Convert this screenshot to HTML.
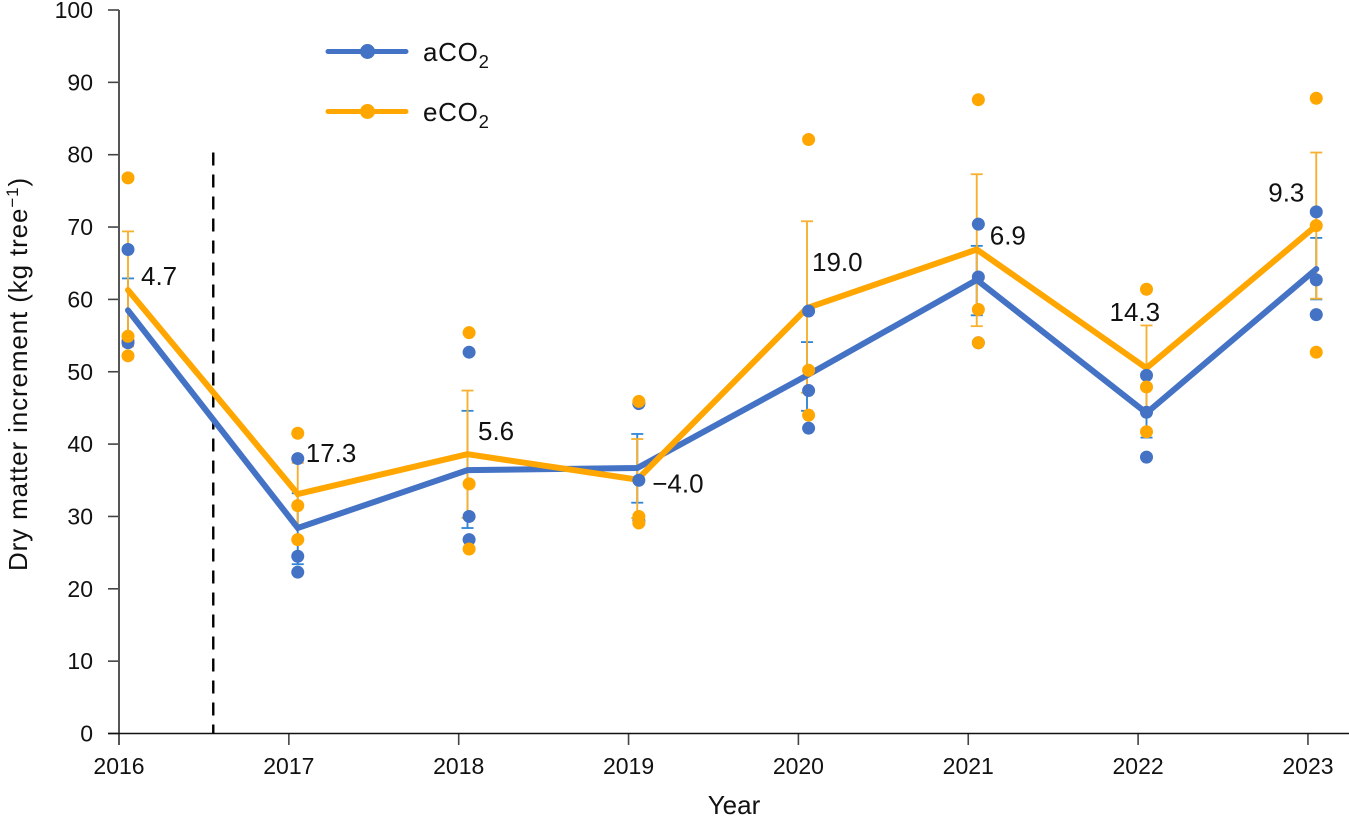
<!DOCTYPE html>
<html lang="en">
<head>
<meta charset="utf-8">
<title>Dry matter increment</title>
<style>
  html, body { margin: 0; padding: 0; background: #fff; }
  svg { display: block; }
  text { font-family: "Liberation Sans", sans-serif; fill: #111; }
</style>
</head>
<body>
<svg id="chart" xmlns="http://www.w3.org/2000/svg" width="1349" height="816" viewBox="0 0 1349 816">
  <g id="axes"></g>
  <g id="bars"></g>
  <g id="lines"></g>
  <g id="dots"></g>
  <g id="notes"></g>
  <text x="734" y="814" text-anchor="middle" font-size="26">Year</text>
  <text transform="translate(27,571) rotate(-90)" font-size="26" letter-spacing="0.87">Dry matter increment (kg tree<tspan dy="-9" font-size="17">−1</tspan><tspan dy="9">)</tspan></text>
  <g>
    <g>
      <line x1="328" y1="51.5" x2="406" y2="51.5" stroke="#4472c4" stroke-width="5" stroke-linecap="round"/>
      <circle cx="367.5" cy="51.5" r="7.5" fill="#4472c4"/>
      <text x="423" y="61" font-size="26" letter-spacing="0.7">aCO<tspan dy="7" font-size="18.5">2</tspan></text>
    </g>
    <g>
      <line x1="328" y1="111.5" x2="406" y2="111.5" stroke="#ffa600" stroke-width="5" stroke-linecap="round"/>
      <circle cx="367.5" cy="111.5" r="7.5" fill="#ffa600"/>
      <text x="423" y="121" font-size="26" letter-spacing="0.7">eCO<tspan dy="7" font-size="18.5">2</tspan></text>
    </g>
  </g>
</svg>
<script>
const years = ['2016', '2017', '2018', '2019', '2020', '2021', '2022', '2023'];
const yTicks = [0, 10, 20, 30, 40, 50, 60, 70, 80, 90, 100];
const aMeans = [58.5, 28.4, 36.4, 36.7, 49.5, 62.7, 44.3, 64.2];
const eMeans = [61.3, 33.1, 38.6, 35.1, 58.8, 66.9, 50.5, 70.2];
const aHigh = [62.9, 33.2, 44.6, 41.4, 54.1, 67.4, 47.7, 68.5];
const aLow = [54.1, 23.4, 28.4, 31.9, 44.6, 57.8, 40.9, 60.0];
const eHigh = [69.4, 37.4, 47.4, 40.7, 70.8, 77.3, 56.4, 80.3];
const eLow = [53.5, 28.8, 29.8, 29.8, 47.1, 56.3, 44.6, 60.1];
const aPoints = [
  [66.9, 54.2, 54.0],
  [38.0, 24.5, 22.3],
  [52.7, 30.0, 26.8],
  [45.6, 35.0, 29.4],
  [58.4, 47.4, 42.2],
  [70.4, 63.1, 54.0],
  [49.5, 44.4, 38.2],
  [72.1, 62.7, 57.9]
];
const ePoints = [
  [76.8, 54.9, 52.2],
  [41.5, 31.5, 26.8],
  [55.4, 34.5, 25.5],
  [45.9, 30.0, 29.1],
  [82.1, 50.2, 44.0],
  [87.6, 58.6, 54.0],
  [61.4, 47.9, 41.7],
  [87.8, 70.2, 52.7]
];
const percentLabels = ['4.7', '17.3', '5.6', '−4.0', '19.0', '6.9', '14.3', '9.3'];
const treatmentStart = 0.555;
const treatmentTop = 80.3;

const NS = 'http://www.w3.org/2000/svg';
const BLUE = '#4472c4', ORANGE = '#ffa600', BLUE_BAR = '#2f86d6', ORANGE_BAR = '#f7b030';

function yPos(v) { return 733.5 - v * 7.235; }
function xTick(i) { return 119 + 169.85 * i; }
function xMark(i) { return 128 + 169.75 * i; }
function xDot(i) { return xMark(i) + (i >= 2 && i <= 5 ? 1.6 : 0); }

function make(parentId, tag, attrs, text) {
  const node = document.createElementNS(NS, tag);
  Object.keys(attrs).forEach(function (k) { node.setAttribute(k, attrs[k]); });
  if (text !== undefined) node.textContent = text;
  document.getElementById(parentId).appendChild(node);
  return node;
}

yTicks.forEach(function (t) {
  const tick = make('axes', 'line', { x1: 108, x2: 119, y1: yPos(t), y2: yPos(t), stroke: '#444', 'stroke-width': 1.6 });
  
  
  const label = make('axes', 'text', { x: 93, y: yPos(t) + 8, 'text-anchor': 'end', 'font-size': 23 }, String(t));
  
  
});

years.forEach(function (yr, i) {
  const tick = make('axes', 'line', { x1: xTick(i), x2: xTick(i), y1: 733.5, y2: 745, stroke: '#444', 'stroke-width': 1.6 });
  
  
  const label = make('axes', 'text', { x: xTick(i), y: 774, 'text-anchor': 'middle', 'font-size': 23 }, yr);
  
  
});

const yAxis = make('axes', 'line', { x1: 119, x2: 119, y1: yPos(100), y2: 745, stroke: '#555', 'stroke-width': 2 });



const xAxis = make('axes', 'line', { x1: 108, x2: 1349, y1: 733.5, y2: 733.5, stroke: '#111', 'stroke-width': 1.6 });



const divider = make('axes', 'line', { x1: xTick(treatmentStart), x2: xTick(treatmentStart), y1: yPos(treatmentTop), y2: 733.5, stroke: '#000', 'stroke-width': 2.4, 'stroke-dasharray': '13 9' });



function drawBar(i, hi, lo, color) {
  const x = xMark(i);
  const stem = make('bars', 'line', { x1: x, x2: x, y1: yPos(hi), y2: yPos(lo), stroke: color, 'stroke-width': 1.9 });
  
  
  const capTop = make('bars', 'line', { x1: x - 6, x2: x + 6, y1: yPos(hi), y2: yPos(hi), stroke: color, 'stroke-width': 1.8 });
  
  
  const capBottom = make('bars', 'line', { x1: x - 6, x2: x + 6, y1: yPos(lo), y2: yPos(lo), stroke: color, 'stroke-width': 1.8 });
  
  
}
years.forEach(function (yr, i) { drawBar(i, aHigh[i], aLow[i], BLUE_BAR); });
years.forEach(function (yr, i) { drawBar(i, eHigh[i], eLow[i], ORANGE_BAR); });

function pathFor(values) {
  return values.map(function (v, i) { return (i ? 'L' : 'M') + xMark(i).toFixed(1) + ' ' + yPos(v).toFixed(1); }).join(' ');
}
const aLine = make('lines', 'path', { d: pathFor(aMeans), fill: 'none', stroke: BLUE, 'stroke-width': 6, 'stroke-linejoin': 'miter', 'stroke-linecap': 'round' });


const eLine = make('lines', 'path', { d: pathFor(eMeans), fill: 'none', stroke: ORANGE, 'stroke-width': 6, 'stroke-linejoin': 'miter', 'stroke-linecap': 'round' });



aPoints.forEach(function (group, i) {
  group.forEach(function (v) {
    const dot = make('dots', 'circle', { cx: xDot(i), cy: yPos(v), r: 6.5, fill: BLUE });
    
    
  });
});
ePoints.forEach(function (group, i) {
  group.forEach(function (v) {
    const dot = make('dots', 'circle', { cx: xDot(i), cy: yPos(v), r: 6.5, fill: ORANGE });
    
    
  });
});

function labelNudge(i) {
  switch (i) {
    case 0: return { dx: 13, dy: -5 };
    case 1: return { dx: 8, dy: -32 };
    case 2: return { dx: 10.5, dy: -14 };
    case 3: return { dx: 15, dy: 13 };
    case 4: return { dx: 5, dy: -37 };
    case 5: return { dx: 13, dy: -5 };
    case 6: return { dx: -37, dy: -47 };
    default: return { dx: -48, dy: -24 };
  }
}
percentLabels.forEach(function (txt, i) {
  const n = labelNudge(i);
  const note = make('notes', 'text', { x: xMark(i) + n.dx, y: yPos(eMeans[i]) + n.dy, 'font-size': 26 }, txt);
  
  
});
</script>
</body>
</html>
